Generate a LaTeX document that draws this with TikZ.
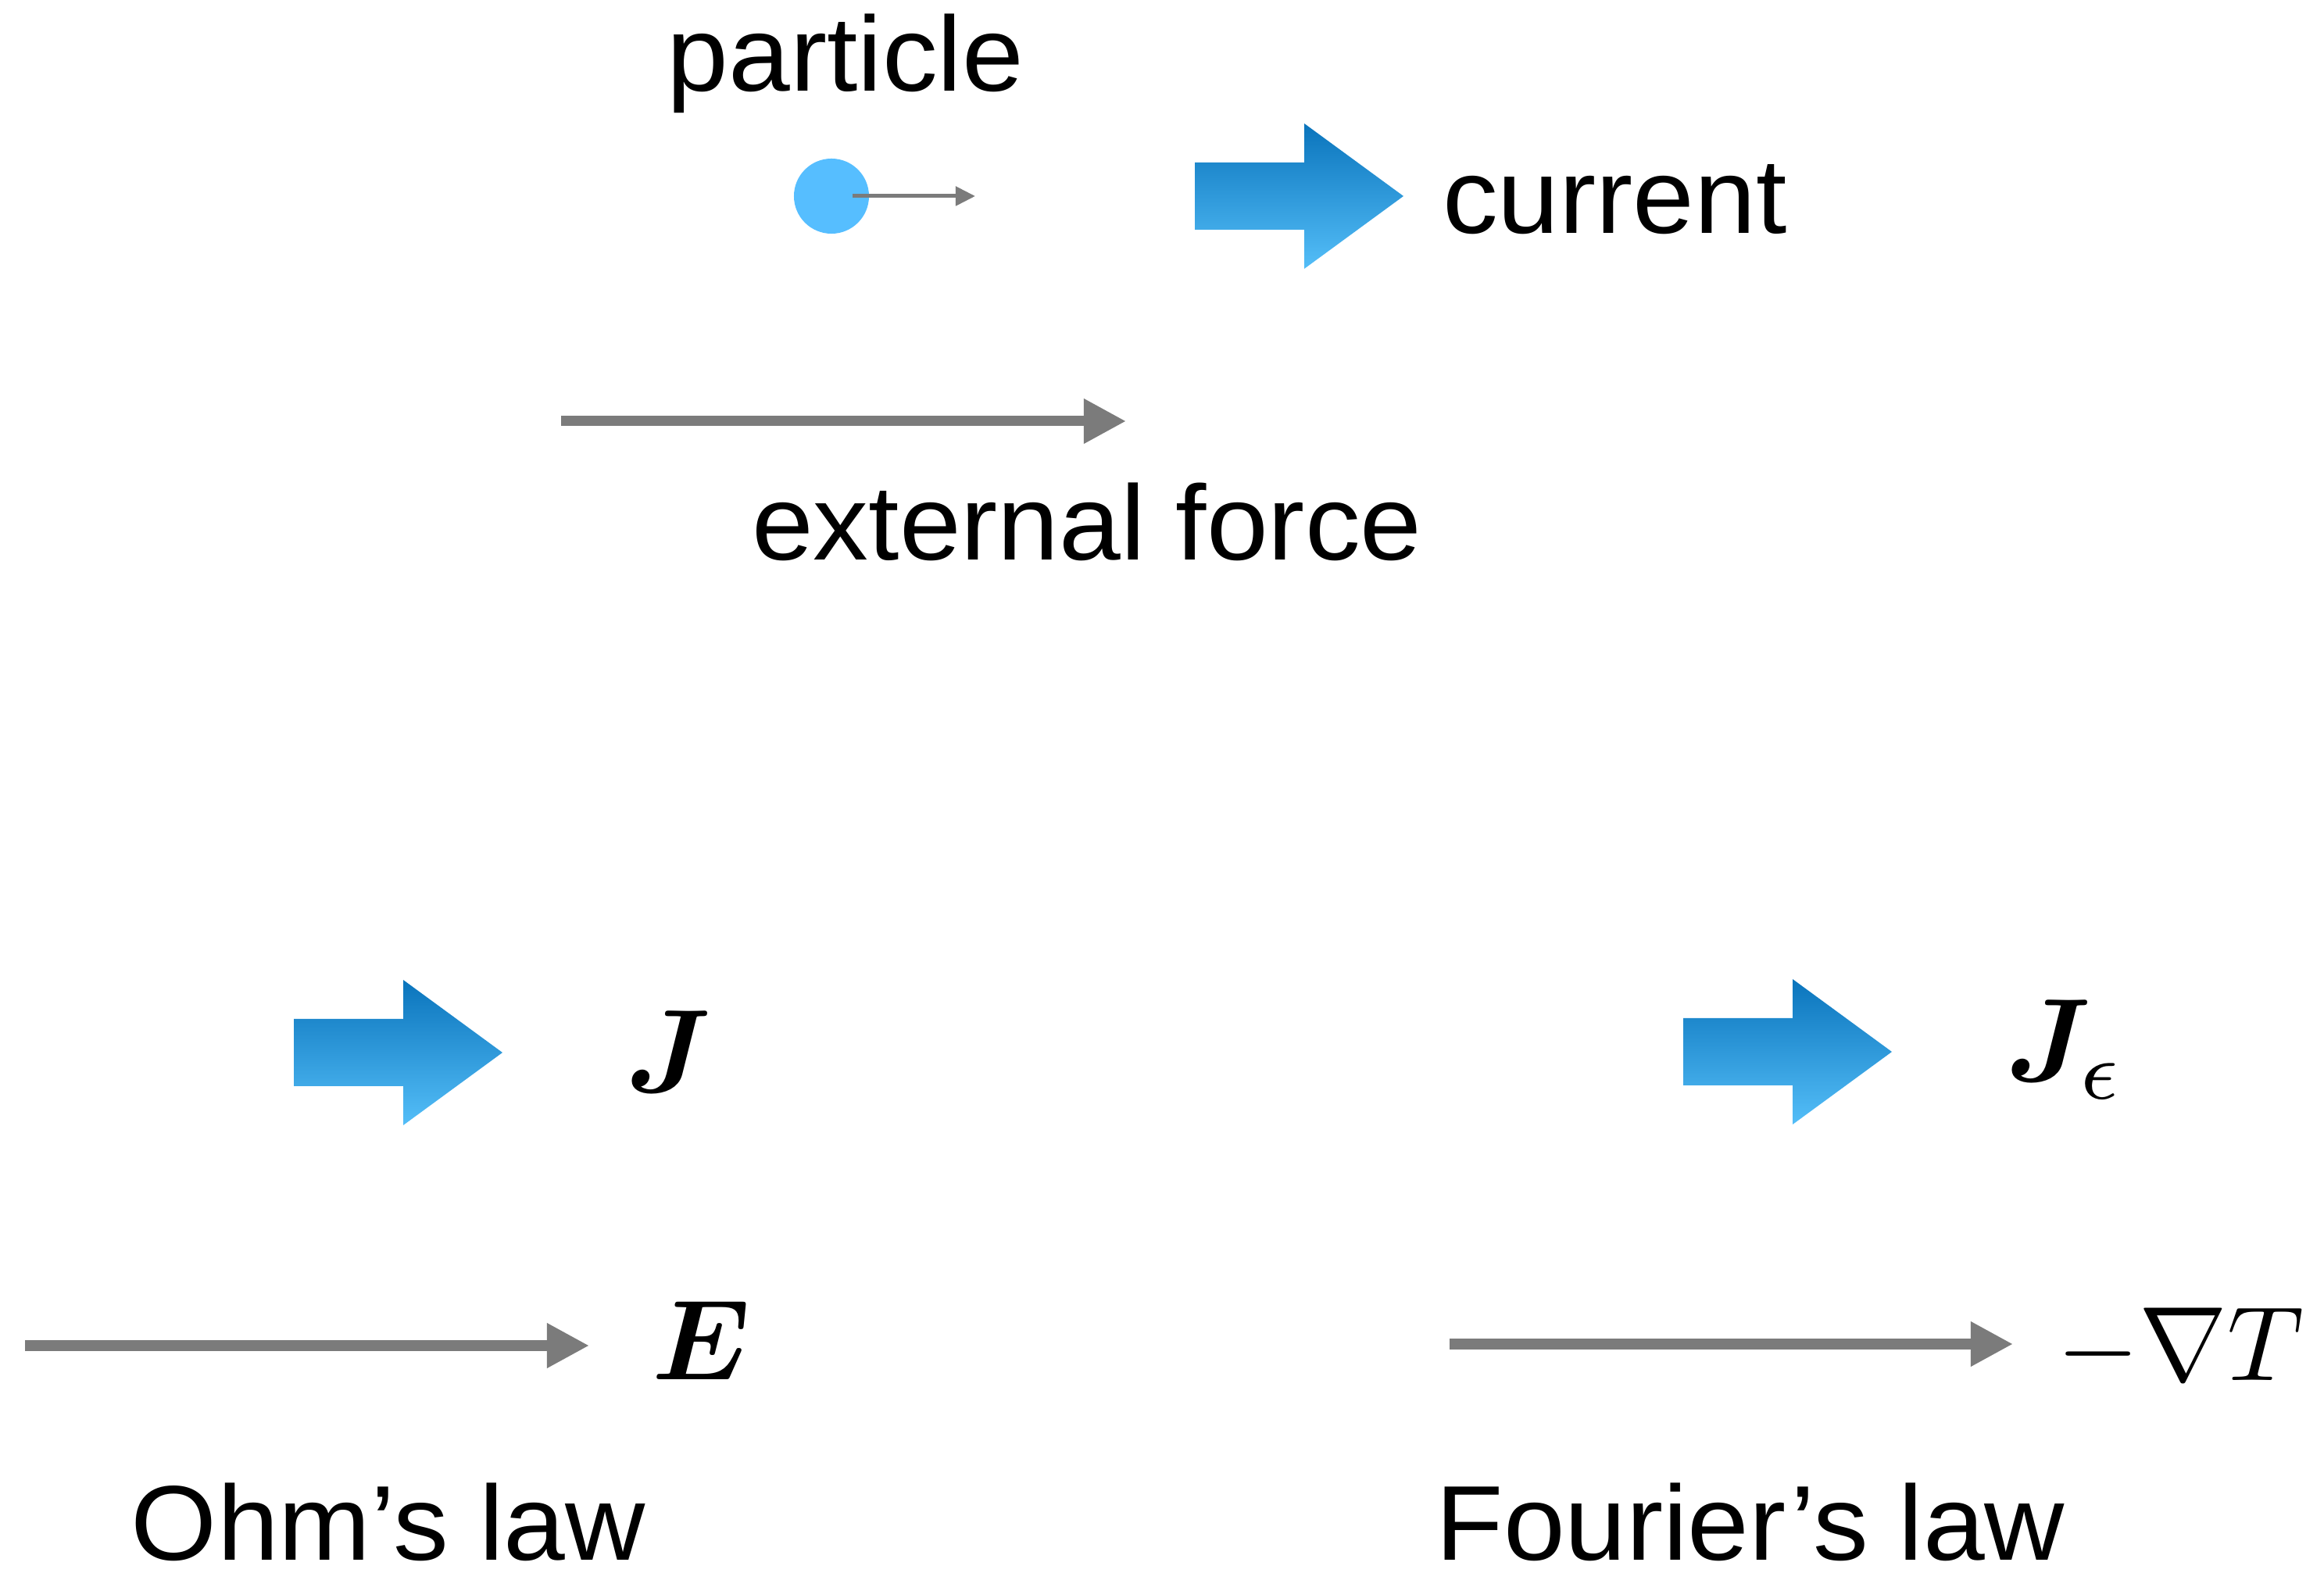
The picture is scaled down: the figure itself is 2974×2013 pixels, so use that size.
\documentclass[tikz,border=0pt]{standalone}
\usepackage{graphicx}
\usepackage{fontspec}
\setmainfont{Liberation Sans}[FakeStretch=1.04]
\usepackage{bm}
\usetikzlibrary{arrows.meta}
\definecolor{gr}{RGB}{123,123,123}
\definecolor{btop}{RGB}{10,116,188}
\definecolor{bbot}{RGB}{84,190,248}
\definecolor{pcl}{RGB}{86,190,255}
\newcommand{\bigmath}[1]{\scalebox{4.3}{$#1$}}
\newcommand{\midmath}[1]{\scalebox{3.85}{$#1$}}
\begin{document}
\begin{tikzpicture}[x=0.01cm,y=-0.01cm,
  lbl/.style={inner sep=0pt,outer sep=0pt,font=\fontsize{38.7}{46}\selectfont,anchor=base},
  mth/.style={inner sep=0pt,outer sep=0pt,font=\normalsize,anchor=base west},
  force/.style={draw=gr,line width=0.13cm,-{Triangle[length=0.54cm,width=0.54cm]}},
  smallforce/.style={draw=gr,line width=0.05cm,-{Triangle[length=0.25cm,width=0.24cm]}},
  bluearrow/.pic={\shade[top color=btop,bottom color=bbot]
     (0,-43) -- (140,-43) -- (140,-93) -- (267,0) -- (140,93) -- (140,43) -- (0,43) -- cycle;}
]
\useasboundingbox (0,0) rectangle (2974,2013);

% top part
\node[lbl] (particle) at (1082,117) {particle};
\node[circle,fill=pcl,minimum size=0.96cm,inner sep=0pt] (ball) at (1064,251) {};
\coordinate (ps) at (1091,251);
\coordinate (pe) at (1248,251);
\draw[smallforce] (ps) -- (pe);

\pic (curarrow) at (1529,251) {bluearrow};
\node[lbl,anchor=base west] (current) at (1846,299) {current};

\coordinate (fs) at (718,539);
\coordinate (fe) at (1441,539);
\draw[force] (fs) -- (fe);
\node[lbl] (external) at (1391,717) {external force};

% Ohm's law
\pic (jarrow) at (376,1347) {bluearrow};
\node[mth] (J) at (800,1398) {\bigmath{\bm{J}}};
\coordinate (es) at (32,1722);
\coordinate (ee) at (754,1722);
\draw[force] (es) -- (ee);
\node[mth] (E) at (834,1766) {\scalebox{4.15}{$\bm{E}$}};
\node[lbl] (ohm) at (497,1996) {Ohm’s law};

% Fourier's law
\pic (jearrow) at (2154,1346) {bluearrow};
\node[mth] (Je) at (2566,1384) {\bigmath{\bm{J}_{\epsilon}}};
\coordinate (ts) at (1855,1720);
\coordinate (te) at (2576,1720);
\draw[force] (ts) -- (te);
\node[mth] (gradT) at (2632,1767) {\midmath{-\nabla T}};
\node[lbl] (fourier) at (2240,1996) {Fourier’s law};
\end{tikzpicture}
\end{document}
